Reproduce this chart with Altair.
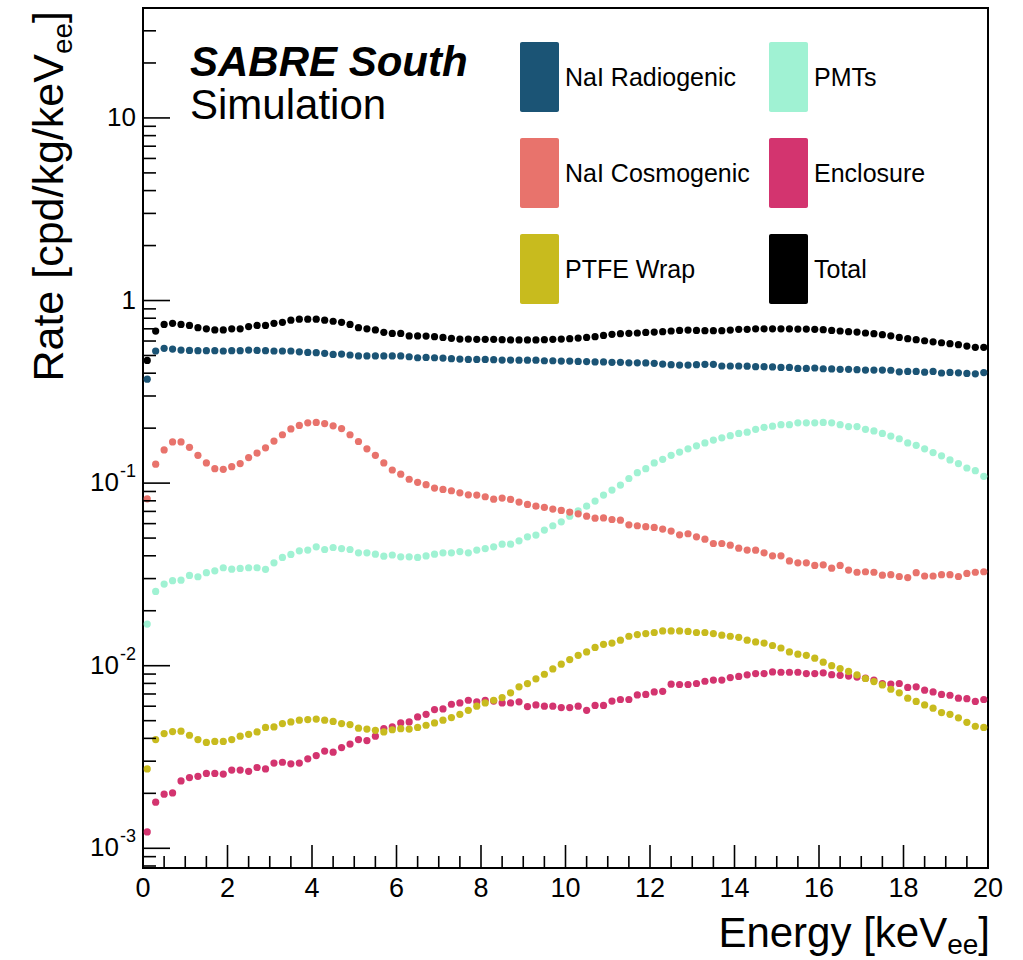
import altair as alt
import pandas as pd

FONT = "Liberation Sans"
W, H = 845, 860          # plot frame size in pixels
X_DOMAIN = [0, 20]
Y_DOMAIN = [7.8e-4, 40]

# bin centres of the 0.2 keV energy bins
energy = [round(0.1 + 0.2 * i, 1) for i in range(100)]

nai_radiogenic = [
    0.371, 0.529, 0.547, 0.542, 0.535, 0.533, 0.531, 0.531, 0.531, 0.529,
    0.531, 0.531, 0.535, 0.533, 0.531, 0.529, 0.529, 0.529, 0.524, 0.520,
    0.518, 0.514, 0.507, 0.509, 0.503, 0.497, 0.497, 0.497, 0.497, 0.497,
    0.497, 0.492, 0.486, 0.488, 0.486, 0.484, 0.480, 0.478, 0.476, 0.476,
    0.476, 0.474, 0.472, 0.472, 0.471, 0.471, 0.471, 0.468, 0.468, 0.466,
    0.466, 0.464, 0.463, 0.461, 0.461, 0.459, 0.459, 0.456, 0.456, 0.455,
    0.453, 0.449, 0.445, 0.443, 0.443, 0.445, 0.447, 0.447, 0.438, 0.438,
    0.438, 0.437, 0.434, 0.434, 0.433, 0.430, 0.430, 0.425, 0.425, 0.427,
    0.423, 0.422, 0.420, 0.420, 0.418, 0.416, 0.416, 0.416, 0.415, 0.407,
    0.409, 0.409, 0.405, 0.409, 0.401, 0.404, 0.402, 0.399, 0.397, 0.403,
]

pmts = [
    0.0169, 0.0255, 0.0280, 0.0292, 0.0294, 0.0312, 0.0307, 0.0323, 0.0331, 0.0344,
    0.0338, 0.0341, 0.0344, 0.0344, 0.0337, 0.0366, 0.0392, 0.0407, 0.0426, 0.0430,
    0.0448, 0.0433, 0.0444, 0.0438, 0.0433, 0.0415, 0.0415, 0.0408, 0.0398, 0.0404,
    0.0395, 0.0395, 0.0392, 0.0399, 0.0408, 0.0415, 0.0415, 0.0422, 0.0415, 0.0430,
    0.0438, 0.0448, 0.0463, 0.0463, 0.0483, 0.0508, 0.0519, 0.0553, 0.0584, 0.0614,
    0.0659, 0.0705, 0.0748, 0.0797, 0.0860, 0.0916, 0.0975, 0.106, 0.114, 0.120,
    0.129, 0.135, 0.142, 0.148, 0.154, 0.160, 0.166, 0.172, 0.177, 0.182,
    0.187, 0.190, 0.197, 0.202, 0.205, 0.209, 0.209, 0.214, 0.214, 0.214,
    0.215, 0.214, 0.209, 0.204, 0.204, 0.197, 0.193, 0.187, 0.181, 0.175,
    0.166, 0.161, 0.154, 0.147, 0.141, 0.134, 0.128, 0.121, 0.117, 0.109,
]

nai_cosmogenic = [
    0.082, 0.127, 0.152, 0.168, 0.168, 0.157, 0.142, 0.129, 0.120, 0.119,
    0.123, 0.128, 0.138, 0.146, 0.156, 0.170, 0.184, 0.198, 0.207, 0.214,
    0.215, 0.212, 0.206, 0.199, 0.184, 0.169, 0.154, 0.142, 0.129, 0.118,
    0.112, 0.105, 0.101, 0.098, 0.094, 0.0923, 0.0908, 0.0885, 0.0863, 0.086,
    0.0842, 0.0817, 0.0828, 0.0814, 0.0787, 0.0764, 0.0748, 0.0736, 0.0721, 0.0709,
    0.0694, 0.0679, 0.0659, 0.0643, 0.0645, 0.0632, 0.0627, 0.0591, 0.0584, 0.0577,
    0.0572, 0.0560, 0.0546, 0.0521, 0.0528, 0.0508, 0.0493, 0.0467, 0.0467, 0.0457,
    0.0440, 0.0430, 0.0429, 0.0415, 0.0400, 0.0400, 0.0375, 0.0366, 0.0366, 0.0354,
    0.0357, 0.0342, 0.0354, 0.0334, 0.0325, 0.0327, 0.0325, 0.0313, 0.0315, 0.0308,
    0.0304, 0.0323, 0.0310, 0.0310, 0.0315, 0.0315, 0.0308, 0.0320, 0.0325, 0.0327,
]

enclosure = [
    0.00123, 0.00179, 0.00198, 0.00201, 0.00234, 0.00244, 0.00248, 0.00257, 0.00257, 0.00255,
    0.00268, 0.00268, 0.00264, 0.00277, 0.00272, 0.00293, 0.00296, 0.00290, 0.00293, 0.00309,
    0.00322, 0.00341, 0.00336, 0.00356, 0.00372, 0.00394, 0.00389, 0.00411, 0.00453, 0.00462,
    0.00486, 0.00492, 0.00524, 0.00542, 0.00575, 0.00580, 0.00615, 0.00625, 0.00647, 0.00634,
    0.00647, 0.00640, 0.00625, 0.00625, 0.00634, 0.00597, 0.00610, 0.00600, 0.00600, 0.00590,
    0.00590, 0.00600, 0.00570, 0.00606, 0.00606, 0.00640, 0.00653, 0.00653, 0.00692, 0.00696,
    0.00718, 0.00724, 0.00792, 0.00789, 0.00789, 0.00799, 0.00822, 0.00834, 0.00834, 0.00861,
    0.00874, 0.00891, 0.00906, 0.00906, 0.00925, 0.00921, 0.00921, 0.00921, 0.00906, 0.00906,
    0.00914, 0.00893, 0.00886, 0.00878, 0.00866, 0.00855, 0.00834, 0.00799, 0.00794, 0.00799,
    0.00760, 0.00766, 0.00734, 0.00718, 0.00696, 0.00689, 0.00664, 0.00660, 0.00637, 0.00653,
]

ptfe_wrap = [
    0.00272, 0.00394, 0.00425, 0.00436, 0.00438, 0.00416, 0.00394, 0.00380, 0.00385, 0.00385,
    0.00394, 0.00411, 0.00421, 0.00434, 0.00459, 0.00462, 0.00482, 0.00492, 0.00503, 0.00507,
    0.00510, 0.00503, 0.00495, 0.00482, 0.00476, 0.00455, 0.00450, 0.00443, 0.00434, 0.00446,
    0.00452, 0.00450, 0.00459, 0.00472, 0.00486, 0.00503, 0.00520, 0.00542, 0.00570, 0.00600,
    0.00625, 0.00647, 0.00669, 0.00710, 0.00766, 0.00798, 0.00847, 0.00898, 0.00960, 0.0102,
    0.0108, 0.0114, 0.0119, 0.0126, 0.0131, 0.0133, 0.0138, 0.0145, 0.0148, 0.0150,
    0.0152, 0.0155, 0.0155, 0.0155, 0.0154, 0.0152, 0.0152, 0.0150, 0.0147, 0.0145,
    0.0143, 0.0138, 0.0135, 0.0133, 0.0129, 0.0125, 0.0119, 0.01156, 0.0114, 0.0110,
    0.01045, 0.0100, 0.00965, 0.00930, 0.00891, 0.00851, 0.00819, 0.00785, 0.00743, 0.00710,
    0.00664, 0.00637, 0.00610, 0.00585, 0.00554, 0.00542, 0.00518, 0.00490, 0.00466, 0.00459,
]

total = [
    0.47, 0.68, 0.74, 0.75, 0.74, 0.73, 0.71, 0.70, 0.69, 0.69,
    0.70, 0.70, 0.72, 0.73, 0.73, 0.75, 0.76, 0.78, 0.79, 0.79,
    0.79, 0.78, 0.77, 0.76, 0.74, 0.71, 0.70, 0.69, 0.67, 0.66,
    0.66, 0.64, 0.64, 0.639, 0.634, 0.628, 0.621, 0.615, 0.615, 0.613,
    0.613, 0.613, 0.610, 0.608, 0.608, 0.608, 0.608, 0.610, 0.613, 0.615,
    0.618, 0.623, 0.628, 0.634, 0.644, 0.653, 0.658, 0.661, 0.664, 0.669,
    0.672, 0.675, 0.681, 0.686, 0.689, 0.686, 0.684, 0.684, 0.684, 0.689,
    0.695, 0.695, 0.700, 0.700, 0.700, 0.700, 0.700, 0.698, 0.698, 0.695,
    0.692, 0.686, 0.681, 0.675, 0.672, 0.664, 0.658, 0.650, 0.641, 0.628,
    0.618, 0.610, 0.602, 0.594, 0.587, 0.580, 0.573, 0.563, 0.554, 0.554,
]

series_names = ["NaI Radiogenic", "PMTs", "NaI Cosmogenic", "Enclosure", "PTFE Wrap", "Total"]
series_values = [nai_radiogenic, pmts, nai_cosmogenic, enclosure, ptfe_wrap, total]
series_colors = ["#1b5475", "#a0f2d3", "#e8736c", "#d3346f", "#c8bb1e", "#000000"]

# decade labels of the log axis
decades = [10, 1, 0.1, 0.01, 0.001]
decade_base = ["10", "1", "10", "10", "10"]
decade_exp = ["", "", "-1", "-2", "-3"]

# energy axis labels
x_major = list(range(0, 21, 2))
x_major_text = [str(t) for t in x_major]
x_minor = [t / 2 for t in range(0, 41) if t % 4 != 0]
y_minor = [m * d for d in [1e-4, 1e-3, 1e-2, 1e-1, 1, 10] for m in range(2, 10)
           if Y_DOMAIN[0] <= m * d <= Y_DOMAIN[1]]

rows = []
for k, (name, vals) in enumerate(zip(series_names, series_values)):
    for e, v in zip(energy, vals):
        rows.append({"series": name, "energy": e, "rate": v, "layer": k})
points_df = pd.DataFrame(rows)

x_scale = alt.Scale(domain=X_DOMAIN, nice=False, zero=False)
y_scale = alt.Scale(type="log", domain=Y_DOMAIN, nice=False)
color_scale = alt.Scale(domain=series_names, range=series_colors)

points = alt.Chart(points_df).mark_circle(size=52, opacity=1).encode(
    x=alt.X("energy:Q", scale=x_scale, axis=None),
    y=alt.Y("rate:Q", scale=y_scale, axis=None),
    color=alt.Color("series:N", scale=color_scale, legend=None),
    order=alt.Order("layer:Q"),
)

tick_style = dict(color="black", strokeWidth=1.6)

x_major_ticks = alt.Chart(pd.DataFrame({"t": x_major})).mark_rule(**tick_style).encode(
    x=alt.X("t:Q", scale=x_scale, axis=None), y=alt.value(H), y2=alt.value(H - 23))
x_minor_ticks = alt.Chart(pd.DataFrame({"t": x_minor})).mark_rule(**tick_style).encode(
    x=alt.X("t:Q", scale=x_scale, axis=None), y=alt.value(H), y2=alt.value(H - 12))
y_major_ticks = alt.Chart(pd.DataFrame({"v": decades})).mark_rule(**tick_style).encode(
    y=alt.Y("v:Q", scale=y_scale, axis=None), x=alt.value(0), x2=alt.value(27))
y_minor_ticks = alt.Chart(pd.DataFrame({"v": y_minor})).mark_rule(**tick_style).encode(
    y=alt.Y("v:Q", scale=y_scale, axis=None), x=alt.value(0), x2=alt.value(13))

x_labels = alt.Chart(pd.DataFrame({"t": x_major, "s": x_major_text})).mark_text(
    align="center", baseline="top", fontSize=27, font=FONT, color="black"
).encode(
    x=alt.X("t:Q", scale=x_scale, axis=None), y=alt.value(H + 8), text="s:N",
)

ylab_df = pd.DataFrame({"v": decades, "base": decade_base, "exp": decade_exp})
y_base_labels = alt.Chart(ylab_df).transform_calculate(
    bx="datum.exp == '' ? -7 : -24"
).mark_text(align="right", baseline="middle", fontSize=26, font=FONT, color="black").encode(
    y=alt.Y("v:Q", scale=y_scale, axis=None),
    x=alt.X("bx:Q", scale=None),
    text="base:N",
)
y_exp_labels = alt.Chart(ylab_df).transform_filter("datum.exp != ''").mark_text(
    align="left", baseline="middle", fontSize=18, font=FONT, color="black", dy=-11
).encode(
    y=alt.Y("v:Q", scale=y_scale, axis=None),
    x=alt.value(-23),
    text="exp:N",
)

one = pd.DataFrame({"k": [0]})


def label(text, x, y, size, align="left", angle=0, weight="normal", style="normal",
          baseline="alphabetic"):
    return alt.Chart(one).mark_text(
        text=text, align=align, baseline=baseline, fontSize=size, font=FONT,
        angle=angle, fontWeight=weight, fontStyle=style, color="black",
    ).encode(x=alt.value(x), y=alt.value(y))


SUB = 28
w_ee = 2 * 0.556 * SUB

# x axis title: Energy [keV_ee]
XT = 42
xw_bracket = 0.278 * XT
x_title = [
    label("]", W + 2, H + 79, XT, align="right"),
    label("ee", W + 2 - xw_bracket, H + 86, SUB, align="right"),
    label("Energy [keV", W + 2 - xw_bracket - w_ee, H + 79, XT, align="right"),
]

# y axis title: Rate [cpd/kg/keV_ee], read bottom to top
YT = 43
yw_bracket = 0.278 * YT
YT_X = -80
y_title = [
    label("]", YT_X, 3, YT, align="right", angle=270),
    label("ee", YT_X + 9, 3 + yw_bracket, SUB, align="right", angle=270),
    label("Rate [cpd/kg/keV", YT_X, 3 + yw_bracket + w_ee, YT, align="right", angle=270),
]

tags = [
    label("SABRE South", 47, 68, 42, weight="bold", style="italic"),
    label("Simulation", 47, 111, 42),
]

# legend: two columns, three rows of tall filled boxes
leg = pd.DataFrame({"series": series_names})
leg["col"] = [i % 2 for i in range(len(leg))]
leg["row"] = [i // 2 for i in range(len(leg))]
leg["bx"] = 377 + 249 * leg["col"]
leg["bx2"] = leg["bx"] + 39
leg["by"] = 34 + 96 * leg["row"]
leg["by2"] = leg["by"] + 70
leg["tx"] = leg["bx2"] + 6
leg["ty"] = leg["by"] + 36

legend_boxes = alt.Chart(leg).mark_rect(cornerRadius=2).encode(
    x=alt.X("bx:Q", scale=None), x2="bx2:Q",
    y=alt.Y("by:Q", scale=None), y2="by2:Q",
    color=alt.Color("series:N", scale=color_scale, legend=None),
)
legend_text = alt.Chart(leg).mark_text(
    align="left", baseline="middle", fontSize=25, font=FONT, color="black"
).encode(
    x=alt.X("tx:Q", scale=None), y=alt.Y("ty:Q", scale=None), text="series:N",
)

chart = alt.layer(
    points, x_major_ticks, x_minor_ticks, y_major_ticks, y_minor_ticks, x_labels,
    y_base_labels, y_exp_labels, *x_title, *y_title, *tags, legend_boxes, legend_text,
).properties(
    width=W, height=H,
    autosize=alt.AutoSizeParams(type="none"),
    padding={"left": 143, "top": 8, "right": 35, "bottom": 92},
    background="white",
).configure_view(stroke="black", strokeWidth=2)

chart.save("out.html", embed_options={"renderer": "svg", "actions": False})
